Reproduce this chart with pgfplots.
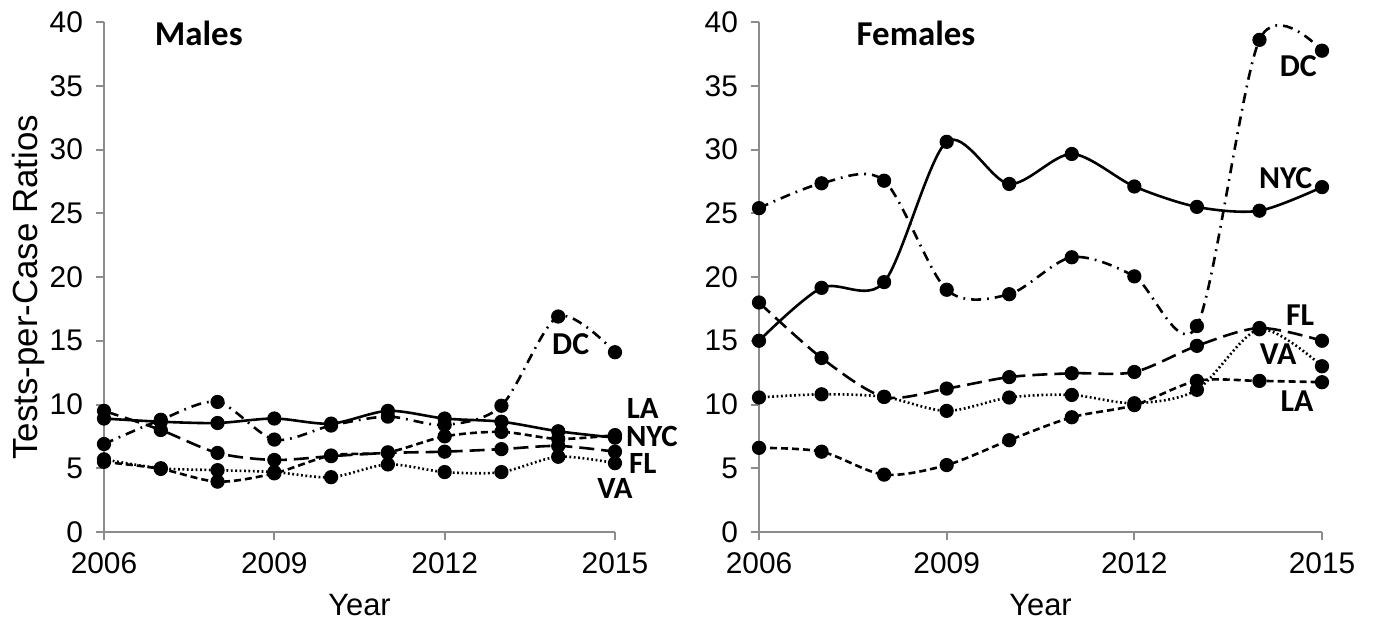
\documentclass[border=0pt]{standalone}
\usepackage{fontspec}
\setmainfont{Liberation Sans}
\newfontfamily\calfont{Carlito}
\usepackage{pgfplots}
\usepackage{pgfplotstable}
\pgfplotsset{compat=1.18}

\pgfplotstableread{
year NYC DC FL VA LA
2006 8.9 6.9 9.5 5.7 5.5
2007 8.65 8.8 8.0 5.0 4.95
2008 8.55 10.2 6.2 4.85 3.95
2009 8.9 7.25 5.65 4.7 4.6
2010 8.5 8.35 5.95 4.3 6.0
2011 9.5 9.05 6.2 5.3 6.25
2012 8.9 8.4 6.3 4.7 7.5
2013 8.65 9.9 6.5 4.7 7.85
2014 7.9 16.9 6.75 5.9 7.3
2015 7.4 14.1 6.3 5.4 7.6
}\males

\pgfplotstableread{
year NYC DC FL VA LA
2006 15.0 25.4 18.0 10.55 6.6
2007 19.15 27.35 13.65 10.8 6.3
2008 19.6 27.55 10.6 10.6 4.5
2009 30.6 19.0 11.25 9.5 5.25
2010 27.3 18.65 12.15 10.55 7.2
2011 29.65 21.55 12.45 10.75 9.0
2012 27.1 20.05 12.55 10.1 9.95
2013 25.5 16.15 14.6 11.15 11.85
2014 25.2 38.6 16.0 15.9 11.85
2015 27.05 37.75 15.0 13.0 11.75
}\females

\definecolor{axgray}{RGB}{140,140,140}

\tikzset{
  lab/.style={font=\calfont\bfseries\fontsize{16}{19}\selectfont, inner sep=0pt},
  labs/.style={font=\calfont\bfseries\fontsize{15.5}{18}\selectfont, inner sep=0pt},
  ttl/.style={font=\calfont\bfseries\fontsize{17.5}{20}\selectfont, inner sep=0pt},
  ser/.style={black, line width=1.3bp, smooth, tension=0.5, mark=*, mark size=2.9bp, mark options={solid, fill=black}},
  sNYC/.style={ser, solid},
  sDC/.style={ser, dash pattern=on 5bp off 3bp on 0.9bp off 3bp},
  sFL/.style={ser, dash pattern=on 7.5bp off 3.5bp},
  sVA/.style={ser, dash pattern=on 0.9bp off 1.3bp},
  sLA/.style={ser, dash pattern=on 3.5bp off 2bp},
}

\pgfplotsset{
  panel/.style={
    scale only axis,
    axis lines=left,
    axis line style={-, draw=axgray, line width=1bp},
    tick style={draw=axgray, line width=1bp},
    tick align=outside,
    major tick length=4bp,
    xmin=2006, xmax=2015, ymin=0, ymax=40,
    xtick={2006,2009,2012,2015},
    xticklabels={2006,2009,2012,2015},
    ytick={0,5,...,40},
    /pgf/number format/assume math mode=true,
    tick label style={font=\fontsize{15}{18}\selectfont},
    xticklabel style={yshift=-3bp},
    yticklabel style={xshift=-3bp},
    xlabel={Year},
    xlabel style={font=\fontsize{15.5}{18}\selectfont, yshift=-3bp},
    clip=false,
  },
}

\begin{document}
\begin{tikzpicture}
\useasboundingbox (0,0) rectangle (686.5bp,313.5bp);

\begin{axis}[panel, at={(52bp,47.5bp)}, anchor=south west,
  width=255.5bp, height=255bp,
  ylabel={Tests-per-Case Ratios},
  ylabel style={font=\fontsize{17.5}{20}\selectfont, at={(axis description cs:0,0.48)}, anchor=center, yshift=38bp},
]
\addplot[sNYC] table[x=year,y=NYC]{\males};
\addplot[sDC] table[x=year,y=DC]{\males};
\addplot[sFL] table[x=year,y=FL]{\males};
\addplot[sVA] table[x=year,y=VA]{\males};
\addplot[sLA] table[x=year,y=LA]{\males};
\node[ttl] at (axis cs:2007.67,39.1) {Males};
\node[lab] at (axis cs:2014.22,14.75) {DC};
\node[labs] at (axis cs:2015.49,9.65) {LA};
\node[labs] at (axis cs:2015.65,7.5) {NYC};
\node[labs] at (axis cs:2015.49,5.35) {FL};
\node[labs] at (axis cs:2015.0,3.4) {VA};
\end{axis}

\begin{axis}[panel, at={(379.5bp,47.5bp)}, anchor=south west,
  width=281.5bp, height=255bp,
]
\addplot[sNYC] table[x=year,y=NYC]{\females};
\addplot[sDC] table[x=year,y=DC]{\females};
\addplot[sFL] table[x=year,y=FL]{\females};
\addplot[sVA] table[x=year,y=VA]{\females};
\addplot[sLA] table[x=year,y=LA]{\females};
\node[ttl] at (axis cs:2008.51,39.1) {Females};
\node[lab] at (axis cs:2014.62,36.55) {DC};
\node[lab] at (axis cs:2014.42,27.76) {NYC};
\node[lab] at (axis cs:2014.65,17.0) {FL};
\node[lab] at (axis cs:2014.3,13.96) {VA};
\node[lab] at (axis cs:2014.6,10.27) {LA};
\end{axis}
\end{tikzpicture}
\end{document}
